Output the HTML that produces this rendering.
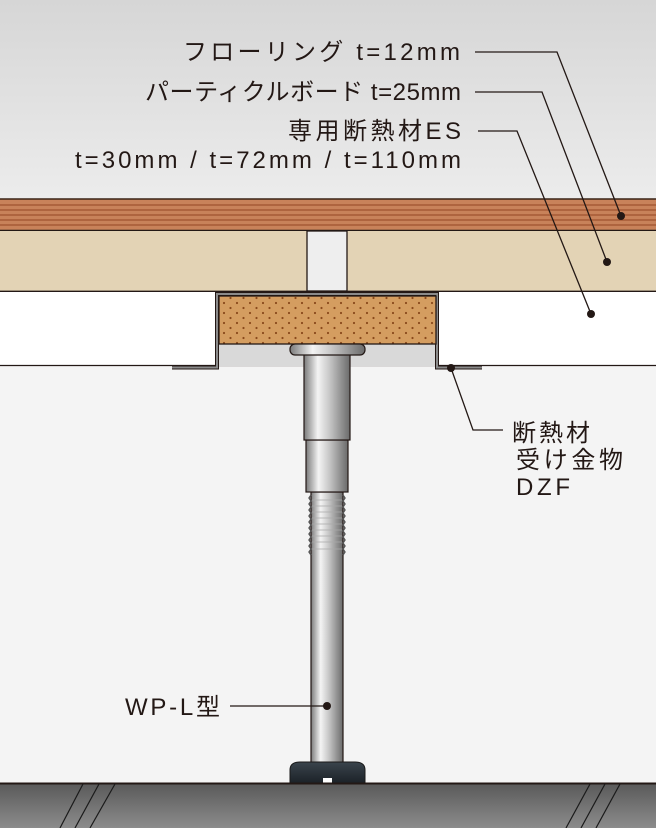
<!DOCTYPE html>
<html><head><meta charset="utf-8"><style>
html,body{margin:0;padding:0;width:656px;height:828px;overflow:hidden;background:#f4f4f4}
svg text{font-family:"Liberation Sans","Noto Sans CJK JP",sans-serif;fill:#231815}
</style></head><body>
<svg width="656" height="828" viewBox="0 0 656 828" xmlns="http://www.w3.org/2000/svg">
<defs>
<linearGradient id="sky" x1="0" y1="0" x2="0" y2="1"><stop offset="0" stop-color="#d6d6d6"/><stop offset="1" stop-color="#ececec"/></linearGradient>
<linearGradient id="floor" x1="0" y1="0" x2="0" y2="1"><stop offset="0" stop-color="#5a5a5a"/><stop offset="1" stop-color="#8c8c8c"/></linearGradient>
<linearGradient id="metal" x1="0" y1="0" x2="1" y2="0"><stop offset="0" stop-color="#7a7a7a"/><stop offset="0.3" stop-color="#f4f4f4"/><stop offset="0.55" stop-color="#c8c8c8"/><stop offset="1" stop-color="#6a6a6a"/></linearGradient>
<linearGradient id="foot" x1="0" y1="0" x2="0" y2="1"><stop offset="0" stop-color="#3a444c"/><stop offset="1" stop-color="#1c2228"/></linearGradient>
<pattern id="dots" width="13" height="10" patternUnits="userSpaceOnUse"><rect width="13" height="10" fill="#d49d60"/><circle cx="3" cy="3" r="1.1" fill="#8a4a1c"/><circle cx="9.5" cy="8" r="1.1" fill="#8a4a1c"/></pattern>
</defs>
<rect x="0" y="0" width="656" height="199" fill="url(#sky)"/>
<rect x="0" y="199" width="656" height="32" fill="#c8825a"/>
<g stroke="#a65a36" stroke-width="1.4">
<line x1="0" y1="205" x2="656" y2="205"/><line x1="0" y1="210" x2="656" y2="210"/><line x1="0" y1="215" x2="656" y2="215"/><line x1="0" y1="220" x2="656" y2="220"/><line x1="0" y1="225" x2="656" y2="225"/></g>
<line x1="0" y1="199" x2="656" y2="199" stroke="#3a2418" stroke-width="1.5"/>
<line x1="0" y1="230.5" x2="656" y2="230.5" stroke="#231815" stroke-width="1.5"/>
<rect x="0" y="231" width="656" height="60" fill="#e3d3b5"/>
<rect x="307" y="231" width="40" height="60" fill="#eeeeee" stroke="#231815" stroke-width="1.3"/>
<line x1="0" y1="291.5" x2="656" y2="291.5" stroke="#231815" stroke-width="1.8"/>
<rect x="0" y="292" width="656" height="74" fill="#ffffff"/>
<line x1="0" y1="365.5" x2="656" y2="365.5" stroke="#231815" stroke-width="1.2"/>
<rect x="0" y="367" width="656" height="416" fill="#f4f4f4"/>
<rect x="219" y="294" width="217" height="72" fill="#d9d9d9"/>
<path d="M172,367.5 H217 V294 H437 V367.5 H482" fill="none" stroke="#231815" stroke-width="4"/>
<path d="M172,367.5 H217 V294 H437 V367.5 H482" fill="none" stroke="#8a8a8a" stroke-width="2"/>
<rect x="219" y="296" width="217" height="48" fill="url(#dots)" stroke="#231815" stroke-width="1.3"/>
<rect x="311" y="492" width="32" height="272" fill="url(#metal)" stroke="#231815" stroke-width="1.2"/>
<g stroke="#555" stroke-width="1.4">
<path d="M311,495 l-2,3 2,3 -2,3 2,3 -2,3 2,3 -2,3 2,3 -2,3 2,3 -2,3 2,3 -2,3 2,3 -2,3 2,3 -2,3 2,3 -2,3 2,3" fill="none"/>
<path d="M343,495 l2,3 -2,3 2,3 -2,3 2,3 -2,3 2,3 -2,3 2,3 -2,3 2,3 -2,3 2,3 -2,3 2,3 -2,3 2,3 -2,3 2,3 -2,3" fill="none"/>
</g>
<g stroke="#aaa" stroke-width="0.8"><line x1="312" y1="500" x2="342" y2="500"/><line x1="312" y1="506" x2="342" y2="506"/><line x1="312" y1="512" x2="342" y2="512"/><line x1="312" y1="518" x2="342" y2="518"/><line x1="312" y1="524" x2="342" y2="524"/><line x1="312" y1="530" x2="342" y2="530"/><line x1="312" y1="536" x2="342" y2="536"/><line x1="312" y1="542" x2="342" y2="542"/><line x1="312" y1="549" x2="342" y2="549"/></g>
<rect x="306" y="440" width="42" height="52" fill="url(#metal)" stroke="#231815" stroke-width="1.2"/>
<rect x="304" y="352" width="46" height="88" fill="url(#metal)" stroke="#231815" stroke-width="1.2"/>
<rect x="290" y="344" width="75" height="11" rx="5" fill="url(#metal)" stroke="#231815" stroke-width="1.2"/>
<path d="M290,783 V770 Q290,762 300,762 H355 Q365,762 365,770 V783 Z" fill="url(#foot)" stroke="#1a1a1a"/>
<rect x="323" y="778" width="9" height="5" fill="#fff"/>
<rect x="0" y="784" width="656" height="44" fill="url(#floor)"/>
<line x1="0" y1="783.5" x2="656" y2="783.5" stroke="#231815" stroke-width="2"/>
<g stroke="#1a1a1a" stroke-width="1.2">
<line x1="83" y1="784" x2="60" y2="828"/><line x1="99" y1="784" x2="75" y2="828"/><line x1="115" y1="784" x2="90" y2="828"/>
<line x1="590" y1="784" x2="566" y2="828"/><line x1="605" y1="784" x2="581" y2="828"/><line x1="620" y1="784" x2="596" y2="828"/>
</g>
<g stroke="#231815" stroke-width="1.3" fill="none">
<polyline points="475,52 557,52 621,216"/>
<polyline points="475,92 542,92 607,262"/>
<polyline points="478,131 517,131 591,314"/>
<polyline points="451,368 473,430 503,430"/>
<line x1="230" y1="706" x2="327" y2="706"/>
</g>
<g fill="#231815"><circle cx="621" cy="216" r="4"/><circle cx="607" cy="262" r="4"/><circle cx="591" cy="314" r="4"/><circle cx="451" cy="368" r="4"/><circle cx="327" cy="706" r="4"/></g>
<g font-size="24">
<text x="183" y="60" textLength="277" lengthAdjust="spacing">フローリング t=12mm</text>
<text x="145" y="100" textLength="316" lengthAdjust="spacing">パーティクルボード t=25mm</text>
<text x="288" y="139" textLength="173" lengthAdjust="spacing">専用断熱材ES</text>
<text x="75" y="168" textLength="386" lengthAdjust="spacing">t=30mm / t=72mm / t=110mm</text>
<text x="512" y="441" textLength="78" lengthAdjust="spacing">断熱材</text>
<text x="516" y="468" textLength="107" lengthAdjust="spacing">受け金物</text>
<text x="516" y="495" textLength="54" lengthAdjust="spacing">DZF</text>
<text x="125" y="715" textLength="95" lengthAdjust="spacing">WP-L型</text>
</g>
</svg>
</body></html>
